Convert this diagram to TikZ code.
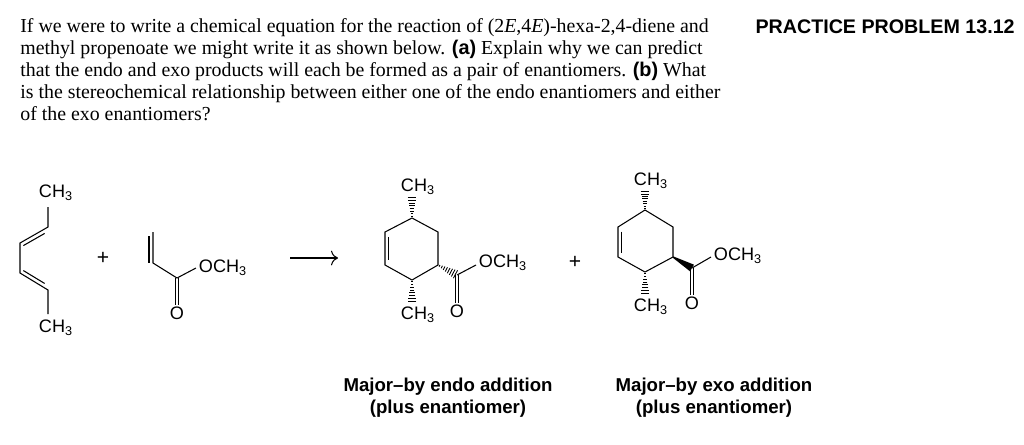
\documentclass[tikz,border=0pt]{standalone}
\usepackage{fontspec}
\setmainfont{Liberation Serif}
\setsansfont{Liberation Sans}
\usetikzlibrary{calc, arrows.meta, positioning}
\tikzstyle{bond} = [line width=0.6pt]
\tikzstyle{atom} = [font=\sffamily\fontsize{10.3}{11}\selectfont, inner sep=0pt]
\tikzstyle{caption} = [font=\sffamily\bfseries\fontsize{10.6}{12.5}\selectfont, align=center]
\newcommand{\hashbond}[2]{%
  \foreach \t in {0.08,0.2,...,1.0} {%
    \pgfmathsetmacro{\w}{0.3+2.4*\t}
    \draw [line width=0.5pt] ($(#1)!\t!(#2)!\w pt!90:(#2)$) -- ($(#1)!\t!(#2)!\w pt!-90:(#2)$);
  }}
\newcommand{\ring}[1]{%
  \draw [bond] (#1t) -- (#1ur) -- (#1lr) -- (#1b) -- (#1ll) -- (#1ul) -- cycle;
  \draw [bond] ($(#1ul)!0.15!(#1ll)+(3.5,0)$) -- ($(#1ll)!0.15!(#1ul)+(3.5,0)$);}

\begin{document}
\begin{tikzpicture}[x=0.02cm, y=-0.02cm]

    \useasboundingbox (0,0) rectangle (1024,444);

    % question text
    \node [anchor=north west, inner sep=0pt, align=left, font=\fontsize{11.3}{12.6}\selectfont] (question) at (20,18)
      {If we were to write a chemical equation for the reaction of (2\textit{E},4\textit{E})-hexa-2,4-diene and\\
       methyl propenoate we might write it as shown below. \textsf{\bfseries (a)} Explain why we can predict\\
       that the endo and exo products will each be formed as a pair of enantiomers. \textsf{\bfseries (b)} What\\
       is the stereochemical relationship between either one of the endo enantiomers and either\\
       of the exo enantiomers?};
    \node [anchor=north east, inner sep=0pt, font=\sffamily\bfseries\fontsize{11.2}{12}\selectfont] (title) at (1015,19) {PRACTICE PROBLEM 13.12};

    % diene
    \node [atom] (dme1) at (56,193) {CH\textsubscript{3}};
    \node [atom] (dme2) at (56,328) {CH\textsubscript{3}};
    \coordinate (d1) at (48,207);
    \coordinate (d2) at (48,227);
    \coordinate (d3) at (20,243);
    \coordinate (d4) at (20,273);
    \coordinate (d5) at (48,290);
    \coordinate (d6) at (48,314);
    \draw [bond] (d1) -- (d2) -- (d3) -- (d4) -- (d5) -- (d6);
    \draw [bond] ($(d2)!0.12!(d3)+(0,4.5)$) -- ($(d3)!0.12!(d2)+(0,4.5)$);
    \draw [bond] ($(d4)!0.12!(d5)+(0,-4.5)$) -- ($(d5)!0.12!(d4)+(0,-4.5)$);

    \node [atom, font=\sffamily\fontsize{12}{12}\selectfont] (plus1) at (103,258) {+};

    % methyl propenoate
    \coordinate (v1) at (153,232);
    \coordinate (v2) at (153,263);
    \coordinate (ac) at (177,278);
    \coordinate (ao) at (196,268);
    \node [atom] (aome) at (223,268) {OCH\textsubscript{3}};
    \node [atom] (aoo) at (177,313) {O};
    \draw [bond] (v1) -- (v2) -- (ac) -- (ao);
    \draw [bond] ($(v1)+(-4,4)$) -- ($(v2)+(-4,0)$);
    \draw [bond] ($(ac)+(-1.8,0)$) -- ($(aoo.north)+(-1.8,-1)$);
    \draw [bond] ($(ac)+(1.8,0)$) -- ($(aoo.north)+(1.8,-1)$);

    \coordinate (ar1) at (290,258);
    \coordinate (ar2) at (338,258);
    \draw [bond, -{To[length=4pt]}] (ar1) -- (ar2);

    % endo product
    \coordinate (nt) at (412,218);
    \coordinate (nur) at (438,232);
    \coordinate (nlr) at (438,265);
    \coordinate (nb) at (412,280);
    \coordinate (nll) at (385,265);
    \coordinate (nul) at (385,232);
    \ring{n}
    \node [atom] (nme1) at (418,187) {CH\textsubscript{3}};
    \node [atom] (nme2) at (418,315) {CH\textsubscript{3}};
    \hashbond{nt}{412,196}
    \hashbond{nb}{412,303}
    \coordinate (nc) at (457,275);
    \hashbond{nlr}{nc}
    \coordinate (no) at (476,265);
    \node [atom] (nome) at (503,263) {OCH\textsubscript{3}};
    \node [atom] (noo) at (457,311) {O};
    \draw [bond] (nc) -- (no);
    \draw [bond] ($(nc)+(-1.8,0)$) -- ($(noo.north)+(-1.8,-1)$);
    \draw [bond] ($(nc)+(1.8,0)$) -- ($(noo.north)+(1.8,-1)$);

    \node [atom, font=\sffamily\fontsize{12}{12}\selectfont] (plus2) at (575,262) {+};

    % exo product
    \coordinate (xt) at (645,210);
    \coordinate (xur) at (673,227);
    \coordinate (xlr) at (673,257);
    \coordinate (xb) at (645,272);
    \coordinate (xll) at (618,257);
    \coordinate (xul) at (618,227);
    \ring{x}
    \node [atom] (xme1) at (651,181) {CH\textsubscript{3}};
    \node [atom] (xme2) at (651,307) {CH\textsubscript{3}};
    \hashbond{xt}{645,190}
    \hashbond{xb}{645,295}
    \coordinate (xc) at (692,268);
    \fill ($(xlr)!0.4pt!90:(xc)$) -- ($(xc)!2.2pt!-90:(xlr)$) -- ($(xc)!2.2pt!90:(xlr)$) -- ($(xlr)!0.4pt!-90:(xc)$) -- cycle;
    \coordinate (xo) at (711,257);
    \node [atom] (xome) at (738,256) {OCH\textsubscript{3}};
    \node [atom] (xoo) at (692,303) {O};
    \draw [bond] (xc) -- (xo);
    \draw [bond] ($(xc)+(-1.8,0)$) -- ($(xoo.north)+(-1.8,-1)$);
    \draw [bond] ($(xc)+(1.8,0)$) -- ($(xoo.north)+(1.8,-1)$);

    % captions
    \node [caption] (endo) at (448,398) {Major--by endo addition\\(plus enantiomer)};
    \node [caption] (exo) at (714,398) {Major--by exo addition\\(plus enantiomer)};

\end{tikzpicture}
\end{document}
